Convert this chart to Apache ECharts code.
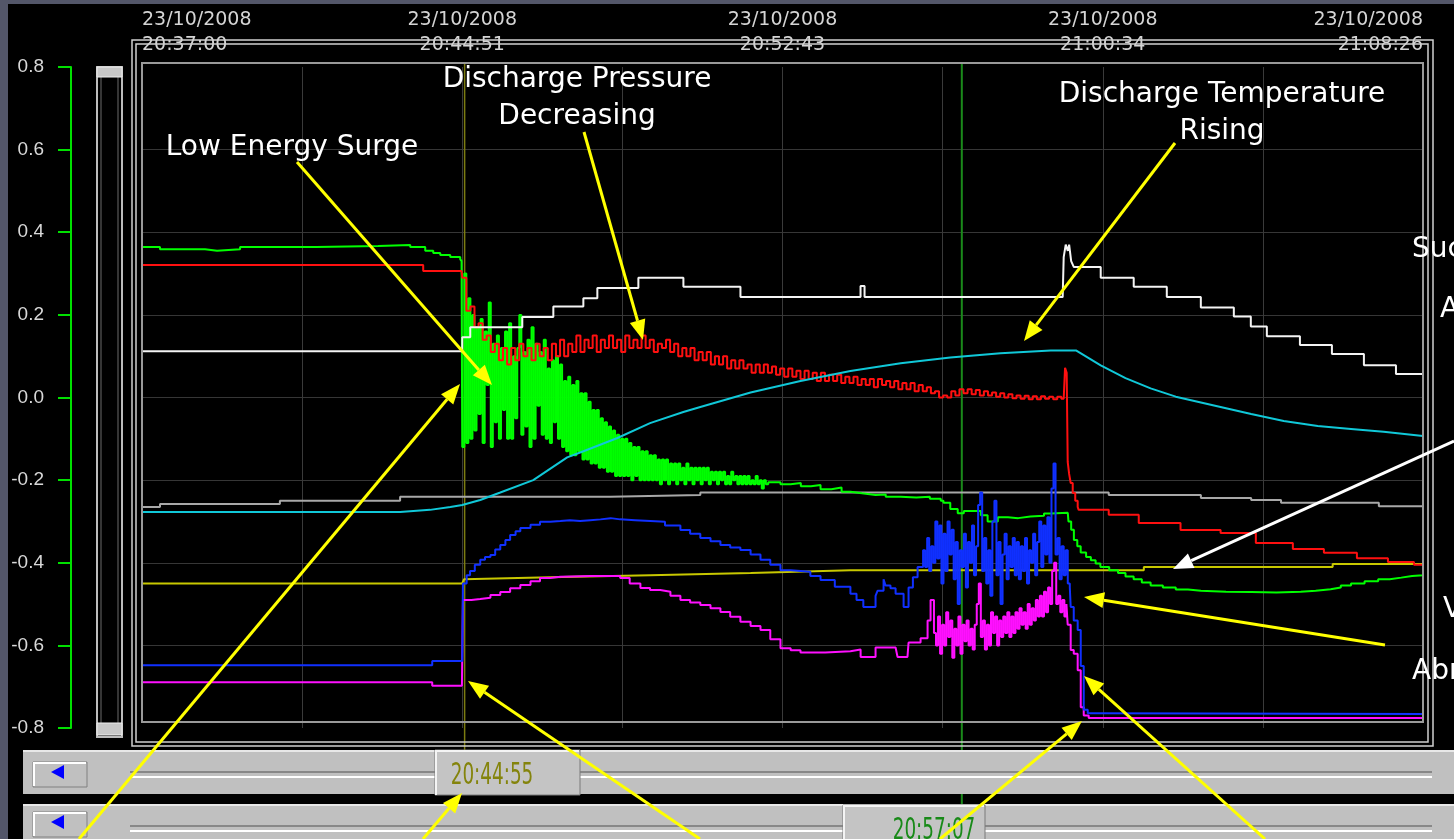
<!DOCTYPE html>
<html>
<head>
<meta charset="utf-8">
<title>Compressor trend 23/10/2008</title>
<script src="https://cdn.jsdelivr.net/npm/echarts@6/dist/echarts.min.js"></script>
<style>
  html, body { margin: 0; padding: 0; background: #000; }
  #chart { width: 1454px; height: 839px; }
</style>
</head>
<body>
<div id="chart"></div>
<script>
// x values are seconds after 20:37:00
const dateLabel = '23/10/2008';
const timeTicks = ['20:37:00', '20:44:51', '20:52:43', '21:00:34', '21:08:26'];
const cursorTimes = [475, 1207];
const cursorLabels = ['20:44:55', '20:57:07'];

const greenPre = [[0,0.364],[26.5,0.364],[26.5,0.359],[92.8,0.359],[92.8,0.355],[110.5,0.355],[110.5,0.359],[144.4,0.359],[144.4,0.364],[256.4,0.364],[256.4,0.367],[347.7,0.367],[347.7,0.369],[394.9,0.369],[394.9,0.364],[417,0.364],[417,0.355],[428.8,0.355],[428.8,0.35],[439.1,0.35],[439.1,0.345],[453.8,0.345],[453.8,0.34],[468.5,0.34],[468.5,0.335],[470.5,0.33]];
// surge samples, every 3 s from 471.5 s
const greenBurst = [
  -0.12,0.3,-0.11,0.24,-0.1,0.2,-0.08,0.17,-0.04,0.19,-0.11,0.16,0.03,0.23,-0.12,0.13,-0.06,0.15,-0.1,0.12,
  -0.03,0.16,-0.1,0.18,-0.1,0.1,-0.05,0.12,0.2,-0.09,0.11,-0.07,0.14,-0.12,0.17,-0.1,0.13,-0.02,0.11,-0.09,
  0.14,-0.1,0.07,-0.11,0.09,-0.06,0.1,-0.1,0.08,-0.12,0.04,-0.13,0.05,-0.14,0.03,-0.14,0.04,-0.13,0.01,-0.15,
  0.01,-0.15,-0.01,-0.16,-0.03,-0.16,-0.03,-0.17,-0.05,-0.17,-0.06,-0.18,-0.07,-0.18,-0.08,-0.19,-0.09,-0.19,-0.1,-0.19,
  -0.1,-0.19,-0.11,-0.2,-0.12,-0.19,-0.12,-0.2,-0.13,-0.2,-0.13,-0.2,-0.14,-0.2,-0.14,-0.2,-0.15,-0.21,-0.15,-0.2,
  -0.15,-0.21,-0.16,-0.2,-0.16,-0.21,-0.16,-0.2,-0.17,-0.21,-0.16,-0.2,-0.17,-0.21,-0.17,-0.2,-0.17,-0.21,-0.17,-0.2,
  -0.17,-0.21,-0.18,-0.2,-0.18,-0.21,-0.18,-0.2,-0.18,-0.21,-0.19,-0.21,-0.18,-0.2,-0.19,-0.21,-0.19,-0.21,-0.19,-0.21,
  -0.19,-0.21,-0.2,-0.21,-0.19,-0.21,-0.2,-0.22,-0.2,-0.21
];
const greenPost = [[922,-0.205],[940,-0.21],[955,-0.207],[970,-0.215],[985,-0.212],[999,-0.222],[1015,-0.218],[1030,-0.228],[1043,-0.232],[1060,-0.236],[1080,-0.235],[1095,-0.24],[1117,-0.242],[1140,-0.24],[1160,-0.245],[1176,-0.25],[1180,-0.255],[1190,-0.27],[1201,-0.28],[1210,-0.275],[1230,-0.275],[1235,-0.285],[1245,-0.3],[1260,-0.29],[1275,-0.292],[1290,-0.288],[1308,-0.286],[1328,-0.281],[1338,-0.279],[1363,-0.279],[1364,-0.3],[1368,-0.32],[1372,-0.345],[1377,-0.36],[1382,-0.375],[1390,-0.386],[1397,-0.394],[1404,-0.402],[1411,-0.41],[1424,-0.418],[1437,-0.425],[1448,-0.433],[1460,-0.44],[1472,-0.448],[1485,-0.455],[1503,-0.46],[1522,-0.465],[1540,-0.468],[1559,-0.47],[1596,-0.471],[1633,-0.472],[1670,-0.47],[1706,-0.468],[1728,-0.464],[1750,-0.46],[1765,-0.455],[1780,-0.45],[1800,-0.445],[1820,-0.44],[1837,-0.436],[1854,-0.432],[1870,-0.43],[1886,-0.428]];

const redPre = [[0,0.321],[414,0.321],[414,0.306],[470.5,0.306]];
// every 6 s from 471.5 s
const redBurst = [
  0.29,0.21,0.22,0.17,0.18,0.14,0.15,0.11,0.13,0.09,0.12,0.08,0.12,0.09,0.13,0.1,0.12,0.09,0.13,0.1,
  0.12,0.09,0.13,0.1,0.14,0.1,0.13,0.11,0.15,0.11,0.14,0.12,0.15,0.11,0.14,0.12,0.15,0.12,0.14,0.11,
  0.15,0.12,0.14,0.12,0.15,0.12,0.14,0.11,0.13,0.12,0.14,0.11,0.13,0.1,0.12,0.1,0.12,0.09,0.11,0.09,
  0.11,0.08,0.1,0.08,0.1,0.07,0.09,0.07,0.09,0.07,0.08,0.06,0.08,0.06,0.08,0.06,0.075,0.055,0.07,0.05,
  0.07,0.05,0.065,0.045,0.065,0.045,0.06,0.04,0.06,0.04,0.055,0.04,0.055,0.035,0.05,0.035,0.05,0.03,0.045,0.03,
  0.045,0.025,0.045,0.03,0.04,0.025,0.04,0.02,0.035,0.02,0.035,0.015,0.03,0.015,0.025,0.01,0.015,0.0,0.005,0.0,
  0.015,0.005,0.02,0.01,0.02,0.008,0.018,0.005,0.015,0.005,0.012,0.002,0.01,0.0,0.008,-0.002,0.005,-0.003,0.004,-0.004,
  0.003,-0.004,0.003,-0.003,0.002,-0.004,0.002,-0.003
];
const redPost = [[1357,0.0],[1359,0.072],[1361.4,0.06],[1362.9,-0.156],[1365,-0.185],[1367.3,-0.207],[1370.3,-0.231],[1374,-0.25],[1377.6,-0.265],[1379,-0.272],[1423.3,-0.272],[1423.3,-0.284],[1467.5,-0.284],[1467.5,-0.304],[1529,-0.304],[1529,-0.321],[1588,-0.321],[1588,-0.328],[1639.9,-0.328],[1639.9,-0.352],[1694.4,-0.352],[1694.4,-0.367],[1740.1,-0.367],[1740.1,-0.376],[1788.7,-0.376],[1788.7,-0.389],[1834.4,-0.389],[1834.4,-0.398],[1872.7,-0.398],[1872.7,-0.405],[1886,-0.405]];

const whiteData = [[0,0.112],[471.5,0.112],[471.5,0.146],[483.3,0.146],[483.3,0.17],[559.9,0.17],[559.9,0.195],[605.6,0.195],[605.6,0.22],[649.8,0.22],[649.8,0.24],[670.4,0.24],[670.4,0.265],[730.8,0.265],[730.8,0.29],[797.1,0.29],[797.1,0.268],[881.1,0.268],[881.1,0.243],[1057.9,0.243],[1057.9,0.27],[1063.8,0.27],[1063.8,0.243],[1355.5,0.243],[1357,0.34],[1360,0.37],[1363,0.355],[1365,0.37],[1368,0.33],[1371.8,0.316],[1411.5,0.316],[1411.5,0.29],[1460.1,0.29],[1460.1,0.268],[1508.8,0.268],[1508.8,0.243],[1558.9,0.243],[1558.9,0.218],[1607.5,0.218],[1607.5,0.196],[1632.5,0.196],[1632.5,0.172],[1656.1,0.172],[1656.1,0.148],[1704.8,0.148],[1704.8,0.127],[1751.9,0.127],[1751.9,0.105],[1799,0.105],[1799,0.078],[1846.2,0.078],[1846.2,0.057],[1886,0.057]];

const grayData = [[0,-0.265],[26.5,-0.265],[26.5,-0.258],[203,-0.258],[203,-0.25],[380,-0.25],[380,-0.24],[689.6,-0.24],[689.6,-0.236],[822,-0.236],[822,-0.23],[1423.3,-0.23],[1423.3,-0.236],[1559,-0.236],[1559,-0.243],[1633,-0.243],[1633,-0.248],[1677,-0.248],[1677,-0.255],[1821,-0.255],[1821,-0.263],[1886,-0.263]];

const cyanData = [[0,-0.277],[380,-0.277],[424,-0.272],[454,-0.265],[471.5,-0.26],[498,-0.248],[527.5,-0.23],[576,-0.2],[626,-0.145],[650,-0.13],[700,-0.098],[748,-0.062],[797,-0.035],[822,-0.023],[896,0.012],[969.5,0.04],[1043,0.064],[1117,0.083],[1190,0.097],[1264,0.107],[1338,0.114],[1375,0.114],[1411.5,0.078],[1448,0.047],[1485,0.022],[1522,0.002],[1559,-0.012],[1596,-0.026],[1633,-0.04],[1681,-0.057],[1731,-0.069],[1780,-0.076],[1828,-0.083],[1886,-0.093]];

const yellowData = [[0,-0.45],[471.5,-0.45],[474,-0.44],[601,-0.435],[748,-0.43],[896,-0.425],[1043,-0.418],[1475,-0.418],[1475,-0.41],[1753,-0.41],[1753,-0.403],[1886,-0.403]];

const bluePre = [[0,-0.648],[427.3,-0.648],[427.3,-0.638],[471.5,-0.638],[472.5,-0.45],[478,-0.43],[483,-0.42],[490,-0.405],[498,-0.393],[505,-0.386],[513,-0.381],[520,-0.368],[527.5,-0.357],[535,-0.345],[542,-0.333],[550,-0.324],[557,-0.316],[572,-0.308],[586,-0.301],[601,-0.299],[616,-0.297],[630,-0.299],[645,-0.297],[660,-0.295],[675,-0.292],[690,-0.295],[704,-0.297],[726,-0.299],[748.5,-0.301],[770,-0.31],[792.7,-0.321],[807,-0.33],[822,-0.34],[837,-0.348],[851.6,-0.357],[866,-0.363],[881,-0.369],[896,-0.38],[910.6,-0.393],[925,-0.405],[940,-0.418],[955,-0.42],[969.5,-0.422],[984,-0.432],[999,-0.442],[1020,-0.458],[1043,-0.475],[1052,-0.49],[1062,-0.507],[1072.6,-0.507],[1080,-0.48],[1082.9,-0.468],[1091.8,-0.44],[1094.7,-0.455],[1102,-0.462],[1109.5,-0.475],[1121.3,-0.507],[1128.6,-0.46],[1135,-0.435],[1141.9,-0.41]];
// every 3 s from 1150 s
const blueBurst = [
  -0.37,-0.41,-0.34,-0.42,-0.36,-0.4,-0.3,-0.39,-0.31,-0.45,-0.33,-0.42,-0.3,-0.38,-0.32,-0.44,-0.35,-0.5,-0.37,-0.41,
  -0.33,-0.46,-0.35,-0.4,-0.31,-0.43,-0.36,-0.26,-0.23,-0.42,-0.34,-0.45,-0.37,-0.48,-0.3,-0.25,-0.43,-0.35,-0.5,-0.38,
  -0.33,-0.44,-0.36,-0.41,-0.34,-0.43,-0.35,-0.44,-0.36,-0.42,-0.34,-0.45,-0.37,-0.4,-0.33,-0.43,-0.35,-0.3,-0.41,-0.31,
  -0.38,-0.29,-0.4,-0.22,-0.16,-0.38,-0.34,-0.44,-0.36,-0.43,-0.37,-0.45,-0.46
];
const bluePost = [[1367.3,-0.507],[1371.8,-0.54],[1377.6,-0.563],[1382.1,-0.65],[1386.5,-0.756],[1392.4,-0.764],[1400,-0.766],[1886,-0.766]];

const magentaPre = [[0,-0.689],[427.3,-0.689],[427.3,-0.698],[471,-0.698],[472.5,-0.49],[485,-0.488],[498,-0.485],[513,-0.478],[527.5,-0.471],[542,-0.462],[557,-0.454],[572,-0.445],[586,-0.437],[601,-0.434],[616,-0.432],[660,-0.432],[704,-0.437],[718,-0.45],[733.8,-0.461],[748,-0.466],[763,-0.47],[778,-0.48],[792.7,-0.49],[807,-0.496],[822,-0.502],[837,-0.51],[851.6,-0.519],[866,-0.531],[881,-0.543],[896,-0.553],[910.6,-0.563],[925,-0.585],[940,-0.607],[955,-0.612],[969.5,-0.617],[1006,-0.614],[1043,-0.61],[1058,-0.61],[1058,-0.628],[1080,-0.628],[1080,-0.605],[1109.5,-0.605],[1112.4,-0.628],[1127,-0.628],[1128.6,-0.593],[1146.3,-0.583],[1156.6,-0.54],[1161,-0.49]];
// every 3 s from 1166 s
const magentaBurst = [
  -0.57,-0.6,-0.53,-0.62,-0.55,-0.6,-0.52,-0.58,-0.54,-0.63,-0.56,-0.6,-0.53,-0.62,-0.55,-0.59,-0.54,-0.6,-0.56,-0.61,
  -0.55,-0.5,-0.45,-0.58,-0.54,-0.61,-0.55,-0.6,-0.52,-0.57,-0.53,-0.6,-0.54,-0.58,-0.53,-0.57,-0.52,-0.58,-0.53,-0.57,
  -0.52,-0.56,-0.51,-0.55,-0.52,-0.56,-0.5,-0.55,-0.51,-0.54,-0.49,-0.53,-0.48,-0.53,-0.47,-0.52,-0.46,-0.5,-0.42,-0.4,
  -0.5,-0.48,-0.52,-0.49,-0.53,-0.5
];
const magentaPost = [[1362.9,-0.55],[1367.3,-0.611],[1371.8,-0.62],[1377.6,-0.66],[1382.1,-0.75],[1386.5,-0.77],[1393.8,-0.776],[1886,-0.776]];

// annotation arrows: start x, start y, tip x, tip y
const yellowArrows = [
  [297, 162, 492, 385], [584, 132, 643, 340], [1175, 143, 1024, 341],
  [1385, 645, 1084, 597], [1265, 839, 1084, 676], [940, 839, 1082, 721],
  [700, 839, 468, 681], [423, 839, 462, 793], [79, 839, 460, 384]
];
const whiteArrows = [[1454, 441, 1173, 569]];

// turn a run of evenly spaced samples into [t, v] pairs
function burst(start, step, values) {
  return values.map((v, i) => [start + i * step, v]);
}

// trend pens are drawn as held (stair) values like the recorder does
function lineSeries(name, color, data, stepped) {
  return {
    name, type: 'line', data, showSymbol: false, animation: false,
    step: stepped ? 'end' : false,
    lineStyle: { color, width: 2 }, itemStyle: { color }
  };
}

function arrow(a, color) {
  const [x1, y1, x2, y2] = a;
  const ang = Math.atan2(y2 - y1, x2 - x1);
  const len = 20, half = 8;
  const bx = x2 - len * Math.cos(ang), by = y2 - len * Math.sin(ang);
  const px = -Math.sin(ang) * half, py = Math.cos(ang) * half;
  return [
    { type: 'line', z: 40, shape: { x1, y1, x2: bx, y2: by }, style: { stroke: color, lineWidth: 3 } },
    { type: 'polygon', z: 40, shape: { points: [[x2, y2], [bx + px, by + py], [bx - px, by - py]] }, style: { fill: color } }
  ];
}

function note(text, x, y, align) {
  return {
    type: 'text', z: 40,
    style: { text, x, y, fill: '#fff', font: '28px "DejaVu Sans"', textAlign: align || 'center', textVerticalAlign: 'middle' }
  };
}

function button(x, y) {
  return [
    { type: 'rect', z: 20, shape: { x, y, width: 54, height: 25 }, style: { fill: '#c0c0c0', stroke: '#808080', lineWidth: 1 } },
    { type: 'polyline', z: 21, shape: { points: [[x + 1, y + 24], [x + 1, y + 1], [x + 53, y + 1]] }, style: { stroke: '#fff', lineWidth: 2, fill: null } },
    { type: 'polygon', z: 21, shape: { points: [[x + 18, y + 10], [x + 31, y + 3], [x + 31, y + 17]] }, style: { fill: '#0000ff' } }
  ];
}

function scrollRow(y, h) {
  return [
    { type: 'rect', z: 20, shape: { x: 23, y, width: 1431, height: h }, style: { fill: '#c0c0c0' } },
    { type: 'line', z: 20, shape: { x1: 23, y1: y + 1, x2: 1454, y2: y + 1 }, style: { stroke: '#e8e8e8', lineWidth: 2 } },
    { type: 'line', z: 20, shape: { x1: 130, y1: y + 22, x2: 1432, y2: y + 22 }, style: { stroke: '#888', lineWidth: 2 } },
    { type: 'line', z: 20, shape: { x1: 130, y1: y + 27, x2: 1432, y2: y + 27 }, style: { stroke: '#fff', lineWidth: 2 } }
  ];
}

function thumb(x, y, w, h, text, tx, color) {
  return [
    { type: 'rect', z: 22, shape: { x, y, width: w, height: h }, style: { fill: '#c4c4c4', stroke: '#7a7a7a', lineWidth: 1 } },
    { type: 'polyline', z: 23, shape: { points: [[x + 1, y + h], [x + 1, y + 1], [x + w - 1, y + 1]] }, style: { stroke: '#f4f4f4', lineWidth: 2, fill: null } },
    {
      type: 'text', z: 24, x: tx, y: y + 26, scaleX: 0.66,
      style: { text, x: 0, y: 0, fill: color, font: '31px "Liberation Sans Narrow", "DejaVu Sans Condensed", sans-serif', textAlign: 'center', textVerticalAlign: 'middle' }
    }
  ];
}

const chart = echarts.init(document.getElementById('chart'));

const option = {
  backgroundColor: '#000',
  animation: false,
  grid: { left: 142, right: 31, top: 67, bottom: 111 },
  xAxis: {
    type: 'value', position: 'top', min: 0, max: 1886, interval: 471.5,
    axisLine: { show: false }, axisTick: { show: false },
    axisLabel: {
      formatter: (v, i) => dateLabel + '\n' + timeTicks[i],
      color: '#d4d4d4', fontFamily: 'DejaVu Sans', fontSize: 19, lineHeight: 25, margin: 9,
      alignMinLabel: 'left', alignMaxLabel: 'right'
    },
    splitLine: { show: true, showMinLine: false, showMaxLine: false, lineStyle: { color: '#3a3a3a' } },
    minorTick: { show: false, splitNumber: 2 },
    minorSplitLine: { show: true, lineStyle: { color: '#3a3a3a' } }
  },
  yAxis: {
    type: 'value', min: -0.8, max: 0.8, interval: 0.2, offset: 71,
    axisLine: { show: true, onZero: false, lineStyle: { color: '#00e000', width: 2 } },
    axisTick: { show: true, length: 13, lineStyle: { color: '#00e000', width: 2 } },
    axisLabel: {
      formatter: v => (Math.abs(v) < 1e-9 ? 0 : v).toFixed(1),
      color: '#d8d8d8', fontFamily: 'Liberation Sans', fontSize: 19, margin: 27
    },
    splitLine: { show: true, showMinLine: false, showMaxLine: false, lineStyle: { color: '#363636' } }
  },
  series: [
    lineSeries('yellow', '#c8c800', yellowData),
    lineSeries('gray', '#a8a8a8', grayData),
    lineSeries('green', '#00ff00', greenPre.concat(burst(471.5, 3, greenBurst), greenPost), true),
    lineSeries('red', '#ff1010', redPre.concat(burst(471.5, 6, redBurst), redPost), true),
    lineSeries('cyan', '#10c8d8', cyanData),
    lineSeries('white', '#f4f4f4', whiteData),
    lineSeries('magenta', '#ff10ff', magentaPre.concat(burst(1166, 3, magentaBurst), magentaPost), true),
    lineSeries('blue', '#1030ff', bluePre.concat(burst(1150, 3, blueBurst), bluePost), true)
  ]
};
chart.setOption(option);

// cursors follow the x scale, then the window chrome and notes on top
const cx = cursorTimes.map(t => chart.convertToPixel({ gridIndex: 0 }, [t, 0])[0]);
let g = [
  { type: 'rect', z: 0, shape: { x: 0, y: 0, width: 8, height: 839 }, style: { fill: '#535669' } },
  { type: 'rect', z: 0, shape: { x: 0, y: 0, width: 1454, height: 4 }, style: { fill: '#535669' } },
  { type: 'line', z: 1, shape: { x1: cx[0], y1: 63, x2: cx[0], y2: 750 }, style: { stroke: '#7c7c10', lineWidth: 1.5 } },
  { type: 'line', z: 1, shape: { x1: cx[1], y1: 63, x2: cx[1], y2: 805 }, style: { stroke: '#1a8a1a', lineWidth: 2 } },
  // left slider
  { type: 'rect', z: 10, shape: { x: 97, y: 67, width: 25, height: 670 }, style: { fill: null, stroke: '#bdbdbd', lineWidth: 2 } },
  { type: 'rect', z: 10, shape: { x: 101, y: 71, width: 17, height: 662 }, style: { fill: null, stroke: '#6a6a6a', lineWidth: 1 } },
  { type: 'rect', z: 11, shape: { x: 97, y: 67, width: 25, height: 10 }, style: { fill: '#c8c8c8', stroke: '#eee', lineWidth: 1 } },
  { type: 'rect', z: 11, shape: { x: 97, y: 723, width: 25, height: 12 }, style: { fill: '#c8c8c8', stroke: '#eee', lineWidth: 1 } },
  // plot frames
  { type: 'rect', z: 10, shape: { x: 132, y: 40, width: 1301, height: 706 }, style: { fill: null, stroke: '#d0d0d0', lineWidth: 1.5 } },
  { type: 'rect', z: 10, shape: { x: 136, y: 44, width: 1292, height: 698 }, style: { fill: null, stroke: '#d0d0d0', lineWidth: 1.5 } },
  { type: 'rect', z: 10, shape: { x: 142, y: 63, width: 1281, height: 659 }, style: { fill: null, stroke: '#9a9a9a', lineWidth: 2 } }
];
g = g.concat(scrollRow(750, 44), button(33, 762), thumb(435, 750, 145, 45, cursorLabels[0], 492, '#84840c'));
g = g.concat(scrollRow(804, 40), button(33, 812), thumb(843, 805, 142, 40, cursorLabels[1], 934, '#188a18'));
g.push(
  note('Low Energy Surge', 292, 148),
  note('Discharge Pressure', 577, 80), note('Decreasing', 577, 117),
  note('Discharge Temperature', 1222, 95), note('Rising', 1222, 132),
  note('Suction Pressure', 1412, 250, 'left'), note('Alarm', 1440, 310, 'left'),
  note('Vibration', 1443, 610, 'left'), note('Abrupt Stop', 1412, 672, 'left')
);
yellowArrows.forEach(a => { g = g.concat(arrow(a, '#ffff00')); });
whiteArrows.forEach(a => { g = g.concat(arrow(a, '#ffffff')); });

chart.setOption({ graphic: { elements: g } });
window.addEventListener('resize', () => chart.resize());
</script>
</body>
</html>
